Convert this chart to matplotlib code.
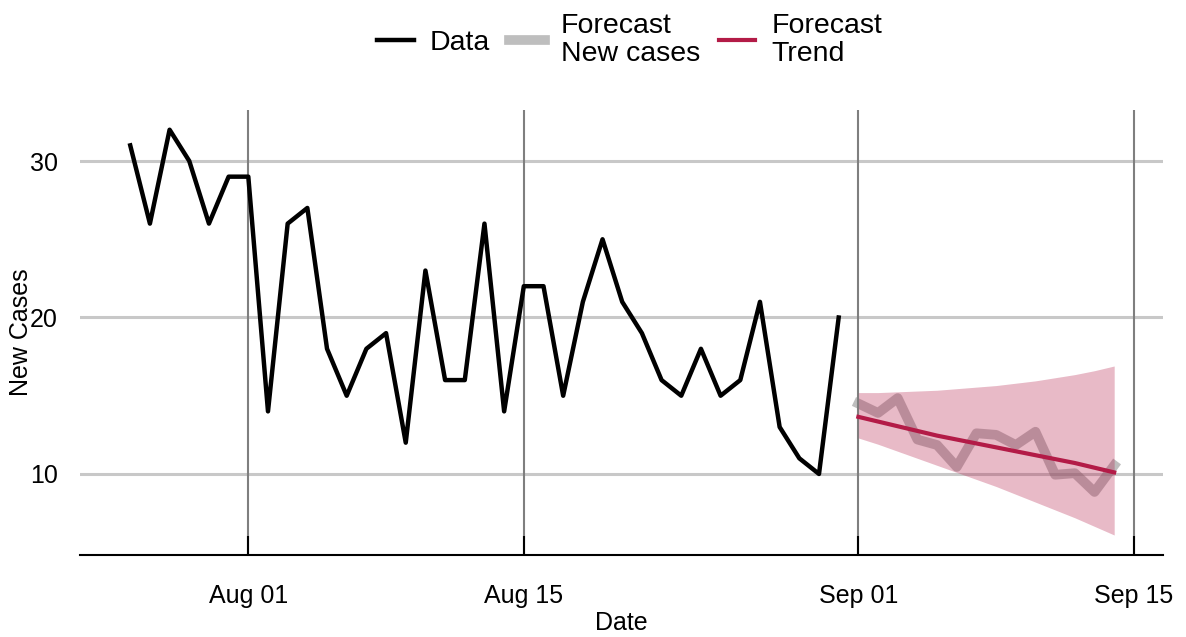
#Daily new cases with a two week forecast
import numpy as np
import pandas as pd
import matplotlib
matplotlib.use('Agg')
import matplotlib.pyplot as plt
import matplotlib.dates as mdates

plt.rcParams['font.family'] = ['Liberation Sans', 'DejaVu Sans']

#Observed data (Jul 26 - Aug 31)
data_dates = pd.date_range('2020-07-26', '2020-08-31', freq='D')
data_cases = [31, 26, 32, 30, 26, 29, 29, 14, 26, 27, 18, 15, 18, 19, 12, 23,
              16, 16, 26, 14, 22, 22, 15, 21, 25, 21, 19, 16, 15, 18, 15, 16,
              21, 13, 11, 10, 20]

#Forecast (Sep 01 - Sep 14)
fc_dates = pd.date_range('2020-09-01', '2020-09-14', freq='D')
fc_cases = [14.5, 13.9, 14.85, 12.2, 11.85, 10.45, 12.6, 12.5, 11.85, 12.7,
            9.95, 10.05, 8.85, 10.55]
fc_trend = [13.65, 13.35, 13.05, 12.75, 12.45, 12.2, 11.95, 11.7, 11.45,
            11.2, 10.95, 10.7, 10.4, 10.1]
fc_upper = [15.2, 15.2, 15.25, 15.3, 15.35, 15.45, 15.55, 15.65, 15.8,
            15.95, 16.15, 16.35, 16.6, 16.9]
fc_lower = [12.3, 11.9, 11.45, 11.0, 10.55, 10.1, 9.65, 9.2, 8.7, 8.2,
            7.7, 7.2, 6.65, 6.1]

tick_dates = pd.to_datetime(['2020-08-01', '2020-08-15', '2020-09-01', '2020-09-15'])
y_ticks = [10, 20, 30]

crimson = '#B31B47'

fig = plt.figure(figsize=(11.86, 6.37), dpi=100)
ax = fig.add_axes([0.0675, 0.1287, 0.9131, 0.6986])

#Grid lines
for y in y_ticks:
    ax.axhline(y, color='#C8C8C8', lw=2.2, zorder=0)
for d in tick_dates:
    ax.axvline(d, color='#7F7F7F', lw=1.5, zorder=0)

ax.plot(data_dates, data_cases, color='black', lw=3.2, label='Data', zorder=3)
ax.plot(fc_dates, fc_cases, color='#7F7F7F', alpha=0.5, lw=7,
        label='Forecast\nNew cases', zorder=2)
ax.fill_between(fc_dates, fc_lower, fc_upper, color=crimson, alpha=0.3,
                lw=0, zorder=2.5)
ax.plot(fc_dates, fc_trend, color=crimson, lw=3, label='Forecast\nTrend', zorder=4)

ax.set_xlim(tick_dates[0] - pd.Timedelta(days=8.55),
            tick_dates[-1] + pd.Timedelta(days=1.48))
ax.set_ylim(4.82, 33.26)

ax.set_xticks(tick_dates)
ax.xaxis.set_major_formatter(mdates.DateFormatter('%b %d'))
ax.set_yticks(y_ticks)

for side in ['top', 'right', 'left']:
    ax.spines[side].set_visible(False)
ax.spines['bottom'].set_linewidth(1.5)

ax.tick_params(axis='x', direction='in', length=14, width=1.5, pad=21,
               labelsize=18)
ax.tick_params(axis='y', length=0, pad=16, labelsize=18)

ax.set_xlabel('Date', fontsize=18, labelpad=2)
ax.set_ylabel('New Cases', fontsize=18, labelpad=-2)

leg = fig.legend(loc='upper center', bbox_to_anchor=(0.531, 1.02), ncol=3,
                 frameon=False, fontsize=20.5, handlelength=1.27,
                 handletextpad=0.56, columnspacing=0.67)
for t in leg.get_texts():
    t.set_linespacing(1.1)

fig.savefig('out.png', dpi=100)
